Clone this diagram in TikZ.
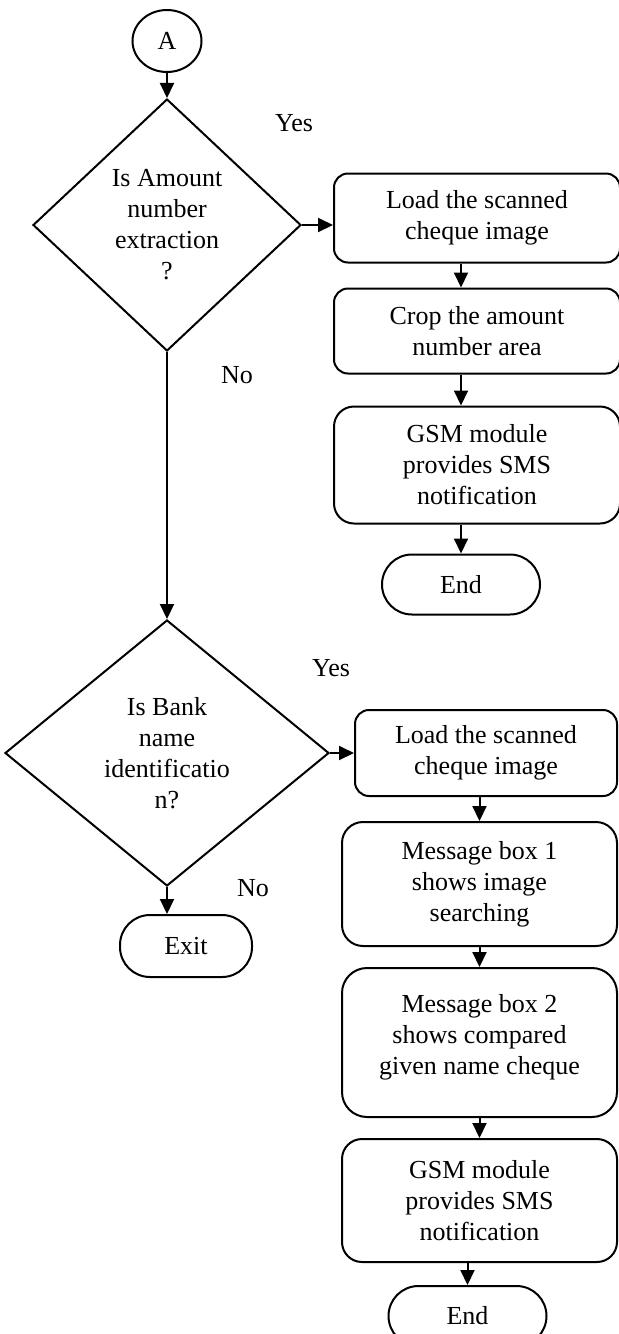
\documentclass[tikz,border=0pt]{standalone}
\usepackage{fontspec}
\setmainfont{Liberation Serif}
\usetikzlibrary{shapes.geometric,positioning,arrows.meta}
\begin{document}
\begin{tikzpicture}[
		font=\fontsize{13}{15.5}\selectfont,
		line width=1pt,
		process/.style={draw,rounded corners=7pt,align=center,inner sep=0pt,minimum width=143pt},
		decision/.style={draw,diamond,align=center,inner sep=0pt},
		terminal/.style={draw,rounded corners=15pt,inner sep=0pt,minimum width=79pt,minimum height=30pt},
		flow/.style={-{Triangle[length=7.5pt,width=7pt]}}]
	\useasboundingbox (0,0) rectangle (309.5pt,-667pt);
	\node [draw,ellipse,inner sep=0pt,minimum width=34.5pt,minimum height=31pt] (start) at (83.5pt,-20.5pt) {A};
	\node [decision,minimum width=134pt,minimum height=126pt,below=12.5pt of start] (amount) {Is Amount\\number\\extraction\\?};
	\node [process,minimum height=44.5pt,right=15.5pt of amount,yshift=3.5pt] (load1) {Load the scanned\\cheque image};
	\node [process,minimum height=42.5pt,below=12pt of load1] (crop) {Crop the amount\\number area};
	\node [process,rounded corners=10pt,minimum height=58.5pt,below=15.5pt of crop] (sms1) {GSM module\\provides SMS\\notification};
	\node [terminal,below=14.5pt of sms1,xshift=-8pt] (end1) {End};
	\node at (147pt,-61.5pt) (yes1) {Yes};
	\node at (118.5pt,-187.5pt) (no1) {No};

	\node [decision,minimum width=162pt,minimum height=133pt,below=133.5pt of amount] (bank) {Is Bank\\name\\identificatio\\n?};
	\node [process,minimum width=131pt,minimum height=43pt,right=12pt of bank] (load2) {Load the scanned\\cheque image};
	\node [process,rounded corners=10.5pt,minimum width=137.5pt,minimum height=62pt,below=12pt of load2,xshift=-3.25pt] (msg1) {Message box 1\\shows image\\searching};
	\node [process,rounded corners=12.5pt,minimum width=137.5pt,minimum height=74.5pt,below=10pt of msg1] (msg2) {Message box 2\\shows compared\\given name cheque\\[-7.5pt]};
	\node [process,rounded corners=10pt,minimum width=137.5pt,minimum height=61.5pt,below=10pt of msg2] (sms2) {GSM module\\provides SMS\\notification};
	\node [terminal,below=11pt of sms2,xshift=-6pt] (end2) {End};
	\node [terminal,minimum width=66pt,minimum height=31pt,below=13.5pt of bank,xshift=9.5pt] (exit) {Exit};
	\node at (165.5pt,-334pt) (yes2) {Yes};
	\node at (126.5pt,-444pt) (no2) {No};

	\draw [flow] (start) -- (amount);
	\draw [flow] (amount.east) -- (amount.east -| load1.west);
	\draw [flow] (load1.south -| end1.north) -- (crop.north -| end1.north);
	\draw [flow] (crop.south -| end1.north) -- (sms1.north -| end1.north);
	\draw [flow] (sms1.south -| end1.north) -- (end1.north);
	\draw [flow] (amount.south) -- (bank.north);
	\draw [flow] (bank.east) -- (bank.east -| load2.west);
	\draw [flow] (load2.south -| msg1.north) -- (msg1.north);
	\draw [flow] (msg1.south) -- (msg2.north);
	\draw [flow] (msg2.south) -- (sms2.north);
	\draw [flow] (sms2.south -| end2.north) -- (end2.north);
	\draw [flow] (bank.south) -- (bank.south |- exit.north);
\end{tikzpicture}
\end{document}
